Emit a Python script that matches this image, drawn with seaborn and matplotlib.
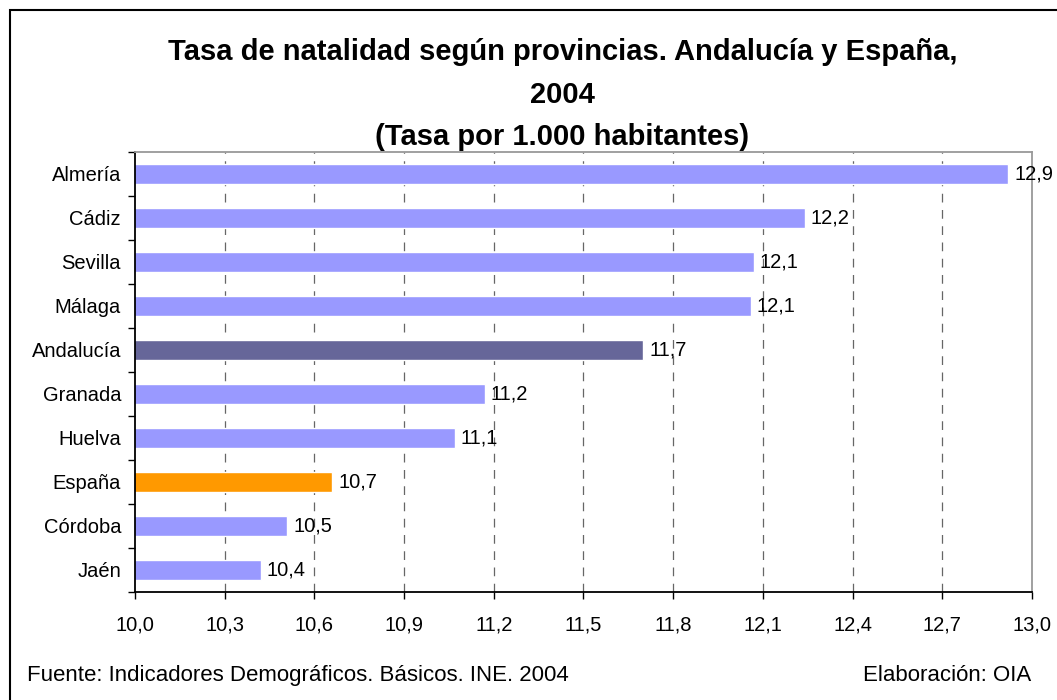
import numpy as np
import pandas as pd
import matplotlib
matplotlib.use("Agg")
import matplotlib.pyplot as plt
from matplotlib.ticker import FixedLocator
import seaborn as sns

provincias = ["Almería", "Cádiz", "Sevilla", "Málaga", "Andalucía",
              "Granada", "Huelva", "España", "Córdoba", "Jaén"]
tasas = [12.92, 12.24, 12.07, 12.06, 11.70, 11.17, 11.07, 10.66, 10.51, 10.42]
colores = ["#9999FF", "#9999FF", "#9999FF", "#9999FF", "#666699",
           "#9999FF", "#9999FF", "#FF9900", "#9999FF", "#9999FF"]
xticks = [10.0, 10.3, 10.6, 10.9, 11.2, 11.5, 11.8, 12.1, 12.4, 12.7, 13.0]

df = pd.DataFrame({"provincia": provincias, "tasa": tasas})

sns.set_style("white")
plt.rcParams["font.family"] = ["Liberation Sans", "DejaVu Sans"]
plt.rcParams["text.color"] = "black"
plt.rcParams["xtick.color"] = "black"
plt.rcParams["ytick.color"] = "black"

fig = plt.figure(figsize=(10.57, 7), dpi=100)
ax = fig.add_axes([0.1277, 0.1543, 0.9763 - 0.1277, 0.7829 - 0.1543])

sns.barplot(data=df, x="tasa", y="provincia", hue="provincia",
            palette=colores, orient="h", width=0.44, legend=False,
            saturation=1, ax=ax)

ax.set_xlim(10.0, 13.0)
ax.set_ylim(9.5, -0.5)
ax.set_xticks(xticks)
ax.set_xticklabels([f"{v:.1f}".replace(".", ",") for v in xticks], fontsize=14.5)
ax.set_yticks(range(len(provincias)))
ax.set_yticklabels(provincias, fontsize=14.5)
ax.set_xlabel("")
ax.set_ylabel("")

# dashed vertical grid
for v in xticks[1:-1]:
    ax.axvline(v, color="#666666", lw=0.9, ls=(0, (7, 6)), zorder=0)

ax.tick_params(axis="y", which="major", left=False, length=0, pad=10)
ax.yaxis.set_minor_locator(FixedLocator(np.arange(-0.5, 10, 1)))
ax.tick_params(axis="y", which="minor", left=True, length=5, direction="out", color="black", width=1)
ax.tick_params(axis="x", which="major", bottom=True, length=5, direction="out", color="black", width=1, pad=12)

for side in ["left", "bottom"]:
    ax.spines[side].set_color("black")
    ax.spines[side].set_linewidth(1.3)
for side in ["top", "right"]:
    ax.spines[side].set_color("#999999")
    ax.spines[side].set_linewidth(1.3)

for i, v in enumerate(tasas):
    ax.text(v + 0.02, i, f"{v:.1f}".replace(".", ","), va="center", ha="left", fontsize=14.5)

fig.text(0.532, 0.945, "Tasa de natalidad según provincias. Andalucía y España,\n2004\n(Tasa por 1.000 habitantes)",
         ha="center", va="top", fontsize=21, fontweight="bold", linespacing=1.64)

fig.text(0.026, 0.035, "Fuente: Indicadores Demográficos. Básicos. INE. 2004", fontsize=16, ha="left", va="center")
fig.text(0.976, 0.035, "Elaboración: OIA", fontsize=16, ha="right", va="center")

# outer frame
fig.add_artist(plt.Rectangle((10 / 1057, -0.05), 1.2, 0.05 + 690 / 700, transform=fig.transFigure,
                             fill=False, edgecolor="black", lw=1.5))

fig.savefig("out.png", dpi=100)
